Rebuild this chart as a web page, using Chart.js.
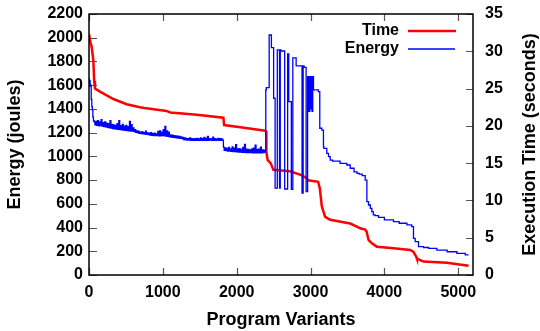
<!DOCTYPE html>
<html><head><meta charset="utf-8">
<script src="https://cdn.jsdelivr.net/npm/chart.js@4/dist/chart.umd.min.js"></script>
<style>html,body{margin:0;padding:0;background:#fff}#wrap{width:540px;height:331px}</style>
</head><body><div id="wrap"><canvas id="c" width="540" height="331"></canvas></div>
<script>
// Program variant index (x) and execution time in seconds (right axis)
const timeX = [0,20,36,59,70,81,149,330,510,690,750,1050,1100,1460,1820,1830,2050,2385,2402,2402,2420,2440,2460,2497,2720,2877,2945,2968,3103,3126,3153,3198,3266,3537,3627,3672,3740,3760,3785,3830,3898,4123,4350,4394,4431,4440,4530,4847,5140];
const timeY = [32.3,31.2,30.6,28.8,26.0,25.0,24.6,23.6,22.9,22.5,22.4,22.0,21.8,21.5,21.1,20.1,19.8,19.35,19.2,16.5,15.4,15.2,15.0,14.1,13.9,13.4,13.0,12.7,12.5,11.6,9.2,7.8,7.4,6.9,6.5,6.26,6.1,5.8,4.7,4.25,3.8,3.6,3.35,3.1,2.45,2.2,1.8,1.65,1.25];

// Program variant index (x) and energy in joules (left axis), each value holds until the next x
const energyX = [0,8,15,22,30,38,45,52,60,70,80,
  92,104,116,128,140,152,164,176,188,200,212,224,236,248,260,272,284,296,308,320,332,344,356,368,380,392,404,416,428,440,452,464,476,488,500,512,524,536,548,560,572,584,596,
  608,620,632,644,656,668,680,692,704,716,728,740,752,764,776,788,800,812,824,836,848,860,872,884,896,908,920,932,944,956,968,980,992,1004,1016,1028,1040,1052,1064,1076,1088,1100,
  1112,1124,1136,1148,1160,1172,1184,1196,1208,1220,1232,1244,1256,1268,1280,1292,1304,1316,1328,1340,1352,1364,1376,1388,1400,1412,1424,1436,1448,1460,1472,1484,1496,1508,1520,1532,1544,1556,1568,1580,1592,1604,1616,1628,1640,1652,1664,1676,1688,1700,1712,1724,1736,1748,1760,1772,1784,1796,1808,1820,
  1830,1842,1854,1866,1878,1890,1902,1914,1926,1938,1950,1962,1974,1986,1998,2010,2022,2034,2046,2058,2070,2082,2094,2106,2118,2130,2142,2154,2166,2178,2190,2202,2214,2226,2238,2250,2262,2274,2286,2298,2310,2322,2334,2346,2358,2370,2382,2394,
  2402,2440,2470,2500,2520,2550,2580,2590,2600,2650,2690,2705,2740,2760,2805,2885,2900,2912,2940,2960,2975,2990,3000,3010,3020,3030,3040,3106,3125,3153,3175,3180,3220,3243,3266,3300,3400,3492,3537,3590,3630,3660,3700,3740,3763,3785,3810,3830,3850,3875,3920,4000,4123,4200,4305,4370,4394,4417,4462,4530,4600,4711,4850,4982,5095,5140];
const energyY = [1660,1610,1640,1590,1600,1480,1420,1390,1330,1300,1290,
  1265,1295,1262,1300,1258,1290,1260,1310,1255,1285,1250,1290,1248,1280,1245,1275,1240,1300,1238,1270,1235,1265,1232,1262,1230,1275,1228,1300,1226,1258,1224,1270,1222,1255,1220,1262,1218,1250,1216,1295,1214,1268,1212,
  1240,1208,1225,1202,1215,1198,1212,1195,1205,1192,1208,1190,1200,1188,1212,1185,1198,1183,1195,1180,1200,1178,1192,1176,1195,1175,1190,1174,1210,1172,1215,1172,1205,1175,1225,1172,1252,1170,1215,1168,1205,1165,
  1180,1162,1178,1160,1175,1158,1172,1156,1170,1154,1168,1152,1165,1150,1160,1142,1155,1140,1152,1138,1150,1137,1156,1136,1150,1135,1148,1135,1150,1134,1152,1134,1148,1134,1155,1134,1150,1135,1160,1135,1152,1136,1168,1136,1150,1137,1148,1136,1162,1136,1150,1136,1148,1137,1152,1136,1150,1136,1148,1137,
  1078,1050,1072,1048,1068,1045,1075,1044,1062,1042,1080,1040,1070,1040,1098,1038,1062,1036,1065,1035,1058,1034,1075,1033,1100,1032,1060,1032,1058,1031,1055,1031,1062,1030,1070,1030,1095,1030,1058,1030,1060,1030,1078,1030,1055,1032,1052,1035,
  1560,1580,2023,1916,1490,733,1897,733,1897,1888,725,1863,1461,722,1830,1762,691,1762,1750,702,1672,1380,1672,1400,1672,1380,1672,1560,1545,1237,1222,1082,1068,1026,997,969,960,941,927,900,870,857,850,837,800,618,590,562,534,506,500,485,464,450,436,422,407,309,281,239,232,225,210,196,183,169];

const xTickLabels = [0,1000,2000,3000,4000,5000];

const timePts = timeX.map((x,i)=>({x:x,y:timeY[i]}));
const energyPts = energyX.map((x,i)=>({x:x,y:energyY[i]}));

const frame = {
  id:'frame',
  beforeDatasetsDraw(chart){
    const {ctx, chartArea:a, scales} = chart;
    ctx.save();
    ctx.strokeStyle = '#555'; ctx.lineWidth = 1.2;
    ctx.beginPath();
    scales.x.ticks.forEach(t=>{
      const px = Math.round(scales.x.getPixelForValue(t.value))+0.5;
      ctx.moveTo(px,a.bottom); ctx.lineTo(px,a.bottom-7);
      ctx.moveTo(px,a.top); ctx.lineTo(px,a.top+7);
    });
    scales.yEnergy.ticks.forEach(t=>{
      const py = Math.round(scales.yEnergy.getPixelForValue(t.value))+0.5;
      ctx.moveTo(a.left,py); ctx.lineTo(a.left+8,py);
    });
    scales.yTime.ticks.forEach(t=>{
      const py = Math.round(scales.yTime.getPixelForValue(t.value))+0.5;
      ctx.moveTo(a.right,py); ctx.lineTo(a.right-7,py);
    });
    ctx.stroke();
    ctx.restore();
  },
  afterDraw(chart){
    const {ctx, chartArea:a} = chart;
    ctx.save();
    ctx.strokeStyle = '#000'; ctx.lineWidth = 1.5;
    ctx.strokeRect(a.left, a.top, a.right-a.left, a.bottom-a.top);
    ctx.font = 'bold 16px "Liberation Sans", Arial, sans-serif';
    ctx.fillStyle = '#000'; ctx.textAlign = 'right'; ctx.textBaseline = 'middle';
    ctx.fillText('Time', 399, 31);
    ctx.fillText('Energy', 399, 49);
    ctx.lineWidth = 2.5; ctx.strokeStyle = '#ff0000';
    ctx.beginPath(); ctx.moveTo(408,31); ctx.lineTo(456,31); ctx.stroke();
    ctx.lineWidth = 1.5; ctx.strokeStyle = '#0000ff';
    ctx.beginPath(); ctx.moveTo(408,49); ctx.lineTo(455,49); ctx.stroke();
    ctx.translate(530, (a.top+a.bottom)/2);
    ctx.rotate(-Math.PI/2);
    ctx.font = 'bold 18px "Liberation Sans", Arial, sans-serif';
    ctx.textAlign = 'center';
    ctx.fillText('Execution Time (seconds)', 0, 0);
    ctx.restore();
  }
};

const tickFont = {family:'"Liberation Sans", Arial, sans-serif', weight:'bold', size:16};
const titleFont = {family:'"Liberation Sans", Arial, sans-serif', weight:'bold', size:18};
function noPadV(s){ s.paddingTop = 0; s.paddingBottom = 0; }

new Chart(document.getElementById('c'), {
  type:'line',
  data:{datasets:[
    {label:'Energy', data:energyPts, yAxisID:'yEnergy', borderColor:'#0000ff', borderWidth:1.3, pointRadius:0, stepped:'after', order:0},
    {label:'Time', data:timePts, yAxisID:'yTime', borderColor:'#ff0000', borderWidth:2.5, pointRadius:0, tension:0, order:1}
  ]},
  options:{
    responsive:false, animation:false, devicePixelRatio:1,
    layout:{padding:{top:14,left:0,right:0,bottom:0}},
    plugins:{legend:{display:false}, tooltip:{enabled:false}},
    scales:{
      x:{type:'linear', min:0, max:5200, afterBuildTicks(s){ s.ticks = xTickLabels.map(v=>({value:v})); },
         ticks:{font:tickFont, color:'#000', padding:8, maxRotation:0, autoSkip:false, callback:v=>String(v)},
         grid:{display:false, drawTicks:false}, border:{display:false},
         title:{display:true, text:'Program Variants', font:titleFont, color:'#000', padding:{top:0,bottom:0}},
         afterFit(s){ s.height = 56; s.paddingLeft = 0; s.paddingRight = 0; }},
      yEnergy:{type:'linear', position:'left', min:0, max:2200,
         ticks:{stepSize:200, font:tickFont, color:'#000', padding:6, callback:v=>String(v)},
         grid:{display:false, drawTicks:false}, border:{display:false},
         title:{display:true, text:'Energy (joules)', font:titleFont, color:'#000', padding:{top:4,bottom:0}},
         afterFit(s){ s.width = 89; noPadV(s); }},
      yTime:{type:'linear', position:'right', min:0, max:35,
         ticks:{stepSize:5, font:tickFont, color:'#000', padding:12, callback:v=>String(v)},
         grid:{display:false, drawTicks:false}, border:{display:false},
         afterFit(s){ s.width = 67; noPadV(s); }}
    }
  },
  plugins:[frame]
});
</script></body></html>
